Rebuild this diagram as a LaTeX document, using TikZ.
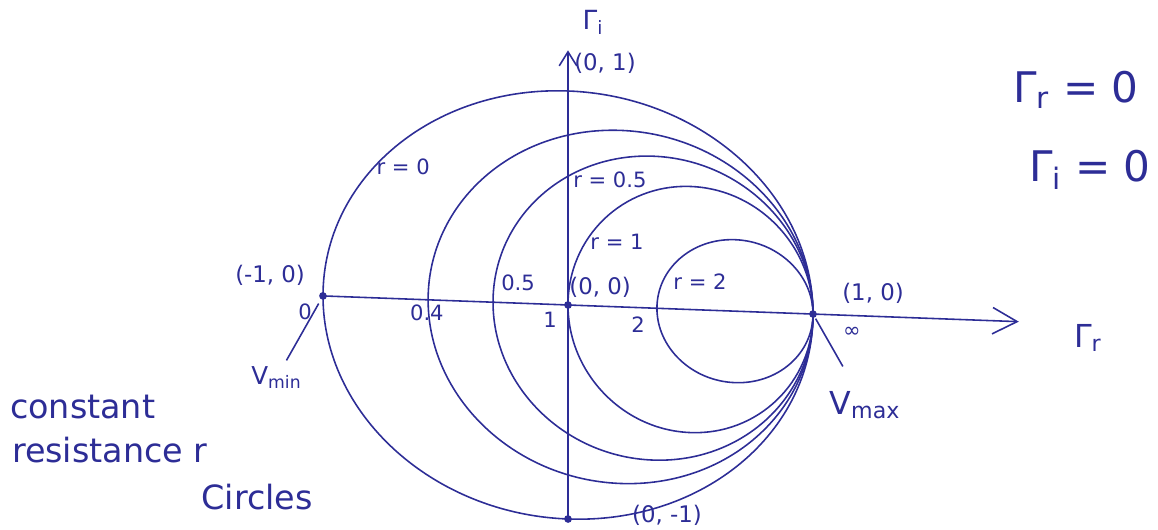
\documentclass[tikz,border=0pt]{standalone}
\usepackage{fontspec}
\setmainfont{DejaVu Sans}
\usetikzlibrary{arrows.meta}
\definecolor{ink}{RGB}{45,45,150}
\tikzset{
  pen/.style={draw=ink, line width=0.9pt},
  small/.style={text=ink, inner sep=1pt, font=\fontsize{12}{14}\selectfont},
  coord/.style={text=ink, inner sep=1pt, font=\fontsize{13}{15}\selectfont},
  note/.style={text=ink, inner sep=1pt, font=\fontsize{19}{22}\selectfont},
}
\begin{document}
\begin{tikzpicture}[x=4.9cm, y=4.28cm]
        \useasboundingbox (-2.3184,-1.0514) rectangle (2.4082,1.4252);
        % Chart, a little slanted like the sketch
        \begin{scope}[yslant=-0.037]
          \coordinate (O) at (0,0);
          \coordinate (L) at (-1,0);
          \coordinate (R) at (1,0);
          \coordinate (T) at (0,1.19);
          \coordinate (B) at (0,-1);
          \coordinate (E) at (1.84,0);
          % Constant r circles (left end / vertical radius)
          \foreach \a/\ry in {-1/1, -0.571/0.825, -0.306/0.71, 0/0.575, 0.363/0.334} {
            \draw[pen] ({(1+\a)/2},0) ellipse [x radius={(1-\a)/2}, y radius=\ry];
          }
          % Axes
          \draw[pen, -{Straight Barb[length=14pt,width=15pt]}] (L) -- (E);
          \draw[pen, -{Straight Barb[length=8pt,width=10pt]}] (B) -- (T);
          % Points
          \foreach \p in {L,O,R,B} {
            \fill[ink] (\p) circle [radius=2.2pt];
          }
        \end{scope}
        % Axis names
        \node[text=ink, font=\fontsize{15}{18}\selectfont] (gi) at (0.102,1.322) {Γ\textsubscript{i}};
        \node[text=ink, font=\fontsize{18}{21}\selectfont] (gr) at (2.122,-0.154) {Γ\textsubscript{r}};
        % Points of the chart
        \node[coord] (ptop) at (0.151,1.131) {(0, 1)};
        \node[coord] (pleft) at (-1.216,0.14) {(-1, 0)};
        \node[coord] (porig) at (0.131,0.084) {(0, 0)};
        \node[coord] (pright) at (1.245,0.056) {(1, 0)};
        \node[coord] (pbot) at (0.404,-0.981) {(0, -1)};
        % Circle names
        \node[small] (ra) at (-0.673,0.645) {r = 0};
        \node[small] (rb) at (0.171,0.584) {r = 0.5};
        \node[small] (rc) at (0.2,0.294) {r = 1};
        \node[small] (rd) at (0.539,0.107) {r = 2};
        % Values on the axis
        \node[small] (v0) at (-1.073,-0.033) {0};
        \node[small] (va) at (-0.576,-0.037) {0.4};
        \node[small] (vb) at (-0.204,0.103) {0.5};
        \node[small] (v1) at (-0.073,-0.07) {1};
        \node[small] (v2) at (0.286,-0.093) {2};
        \node[small] (vinf) at (1.159,-0.126) {∞};
        % Voltage min and max
        \node[text=ink, font=\fontsize{14}{16}\selectfont] (vmin) at (-1.19,-0.34) {V\textsubscript{min}};
        \node[text=ink, font=\fontsize{18}{21}\selectfont] (vmax) at (1.212,-0.467) {V\textsubscript{max}};
        \draw[pen, shorten >=5pt] (vmin.60) -- (L);
        \draw[pen, shorten <=3pt, shorten >=12pt] (R) -- (vmax.120);
        % Notes
        \node[text=ink, anchor=west, font=\fontsize{24}{28}\selectfont] (grzero) at (1.792,1.005) {Γ\textsubscript{r} = 0};
        \node[text=ink, anchor=west, font=\fontsize{24}{28}\selectfont] (gizero) at (1.857,0.631) {Γ\textsubscript{i} = 0};
        \node[note, anchor=west] (con) at (-2.286,-0.477) {constant};
        \node[note, anchor=west] (res) at (-2.278,-0.678) {resistance r};
        \node[note] (cir) at (-1.269,-0.897) {Circles};
      \end{tikzpicture}
\end{document}
